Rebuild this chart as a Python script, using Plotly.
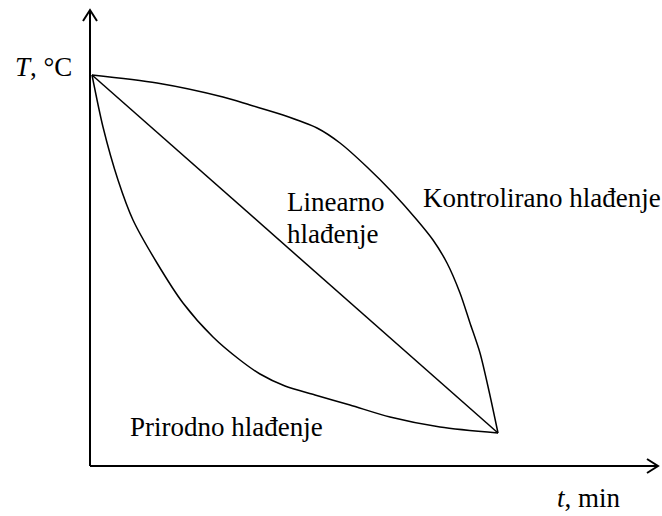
import plotly.graph_objects as go

# Cooling curves (t and T in drawing units, origin at the axes corner)
t_controlled = [2, 67, 133, 160, 193, 227, 250, 277, 303, 327, 343, 357, 370, 380, 390, 399, 408]
T_controlled = [391, 383, 369, 361, 351, 338, 323, 299, 273, 246, 226, 203, 173, 143, 113, 75, 33]

t_linear = [2, 408]
T_linear = [391, 33]

t_natural = [2, 13, 28, 43, 67, 93, 123, 150, 170, 195, 225, 260, 300, 350, 408]
T_natural = [391, 339, 286, 246, 203, 163, 129, 106, 92, 80, 71, 61, 49, 39, 33]

label_font = dict(family="Liberation Serif", size=27, color="black")
line_style = dict(color="black", width=1.5)

fig = go.Figure()

fig.add_trace(go.Scatter(x=t_controlled, y=T_controlled, mode="lines",
                         line=dict(shape="spline", smoothing=0.8, **line_style), hoverinfo="skip"))
fig.add_trace(go.Scatter(x=t_linear, y=T_linear, mode="lines",
                         line=line_style, hoverinfo="skip"))
fig.add_trace(go.Scatter(x=t_natural, y=T_natural, mode="lines",
                         line=dict(shape="spline", smoothing=0.8, **line_style), hoverinfo="skip"))

# axes drawn by hand, with open arrow heads
axis_line = dict(color="black", width=2)
fig.add_shape(type="line", x0=0, y0=0, x1=0, y1=456, line=axis_line)
fig.add_shape(type="line", x0=0, y0=0, x1=568, y1=0, line=axis_line)
fig.add_shape(type="path", path="M -7,445 L 0,456 L 7,445", line=axis_line)
fig.add_shape(type="path", path="M 557,7 L 568,0 L 557,-7", line=axis_line)

fig.add_annotation(x=-77, y=399, text="<i>T</i>, °C", showarrow=False,
                   xanchor="left", yanchor="middle", font=label_font)
fig.add_annotation(x=465, y=-32, text="<i>t</i>, min", showarrow=False,
                   xanchor="left", yanchor="middle", font=label_font)
# two lines placed separately, the sketch has tighter line spacing than <br>
fig.add_annotation(x=195, y=264, text="Linearno", showarrow=False,
                   xanchor="left", yanchor="middle", font=label_font)
fig.add_annotation(x=195, y=232, text="hlađenje", showarrow=False,
                   xanchor="left", yanchor="middle", font=label_font)
fig.add_annotation(x=331, y=268, text="Kontrolirano hlađenje", showarrow=False,
                   xanchor="left", yanchor="middle", font=label_font)
fig.add_annotation(x=38, y=39, text="Prirodno hlađenje", showarrow=False,
                   xanchor="left", yanchor="middle", font=label_font)

hidden_axis = dict(visible=False, showgrid=False, zeroline=False, fixedrange=True)
fig.update_layout(
    width=662,
    height=516,
    margin=dict(l=0, r=0, t=0, b=0),
    showlegend=False,
    plot_bgcolor="white",
    paper_bgcolor="white",
    xaxis=dict(range=[-90, 572], **hidden_axis),
    yaxis=dict(range=[-50, 466], **hidden_axis),
)

# drop the default page margin so the figure fills the window exactly
fig.write_html("out.html", config={"displayModeBar": False},
               post_script="document.body.style.margin = '0';")
